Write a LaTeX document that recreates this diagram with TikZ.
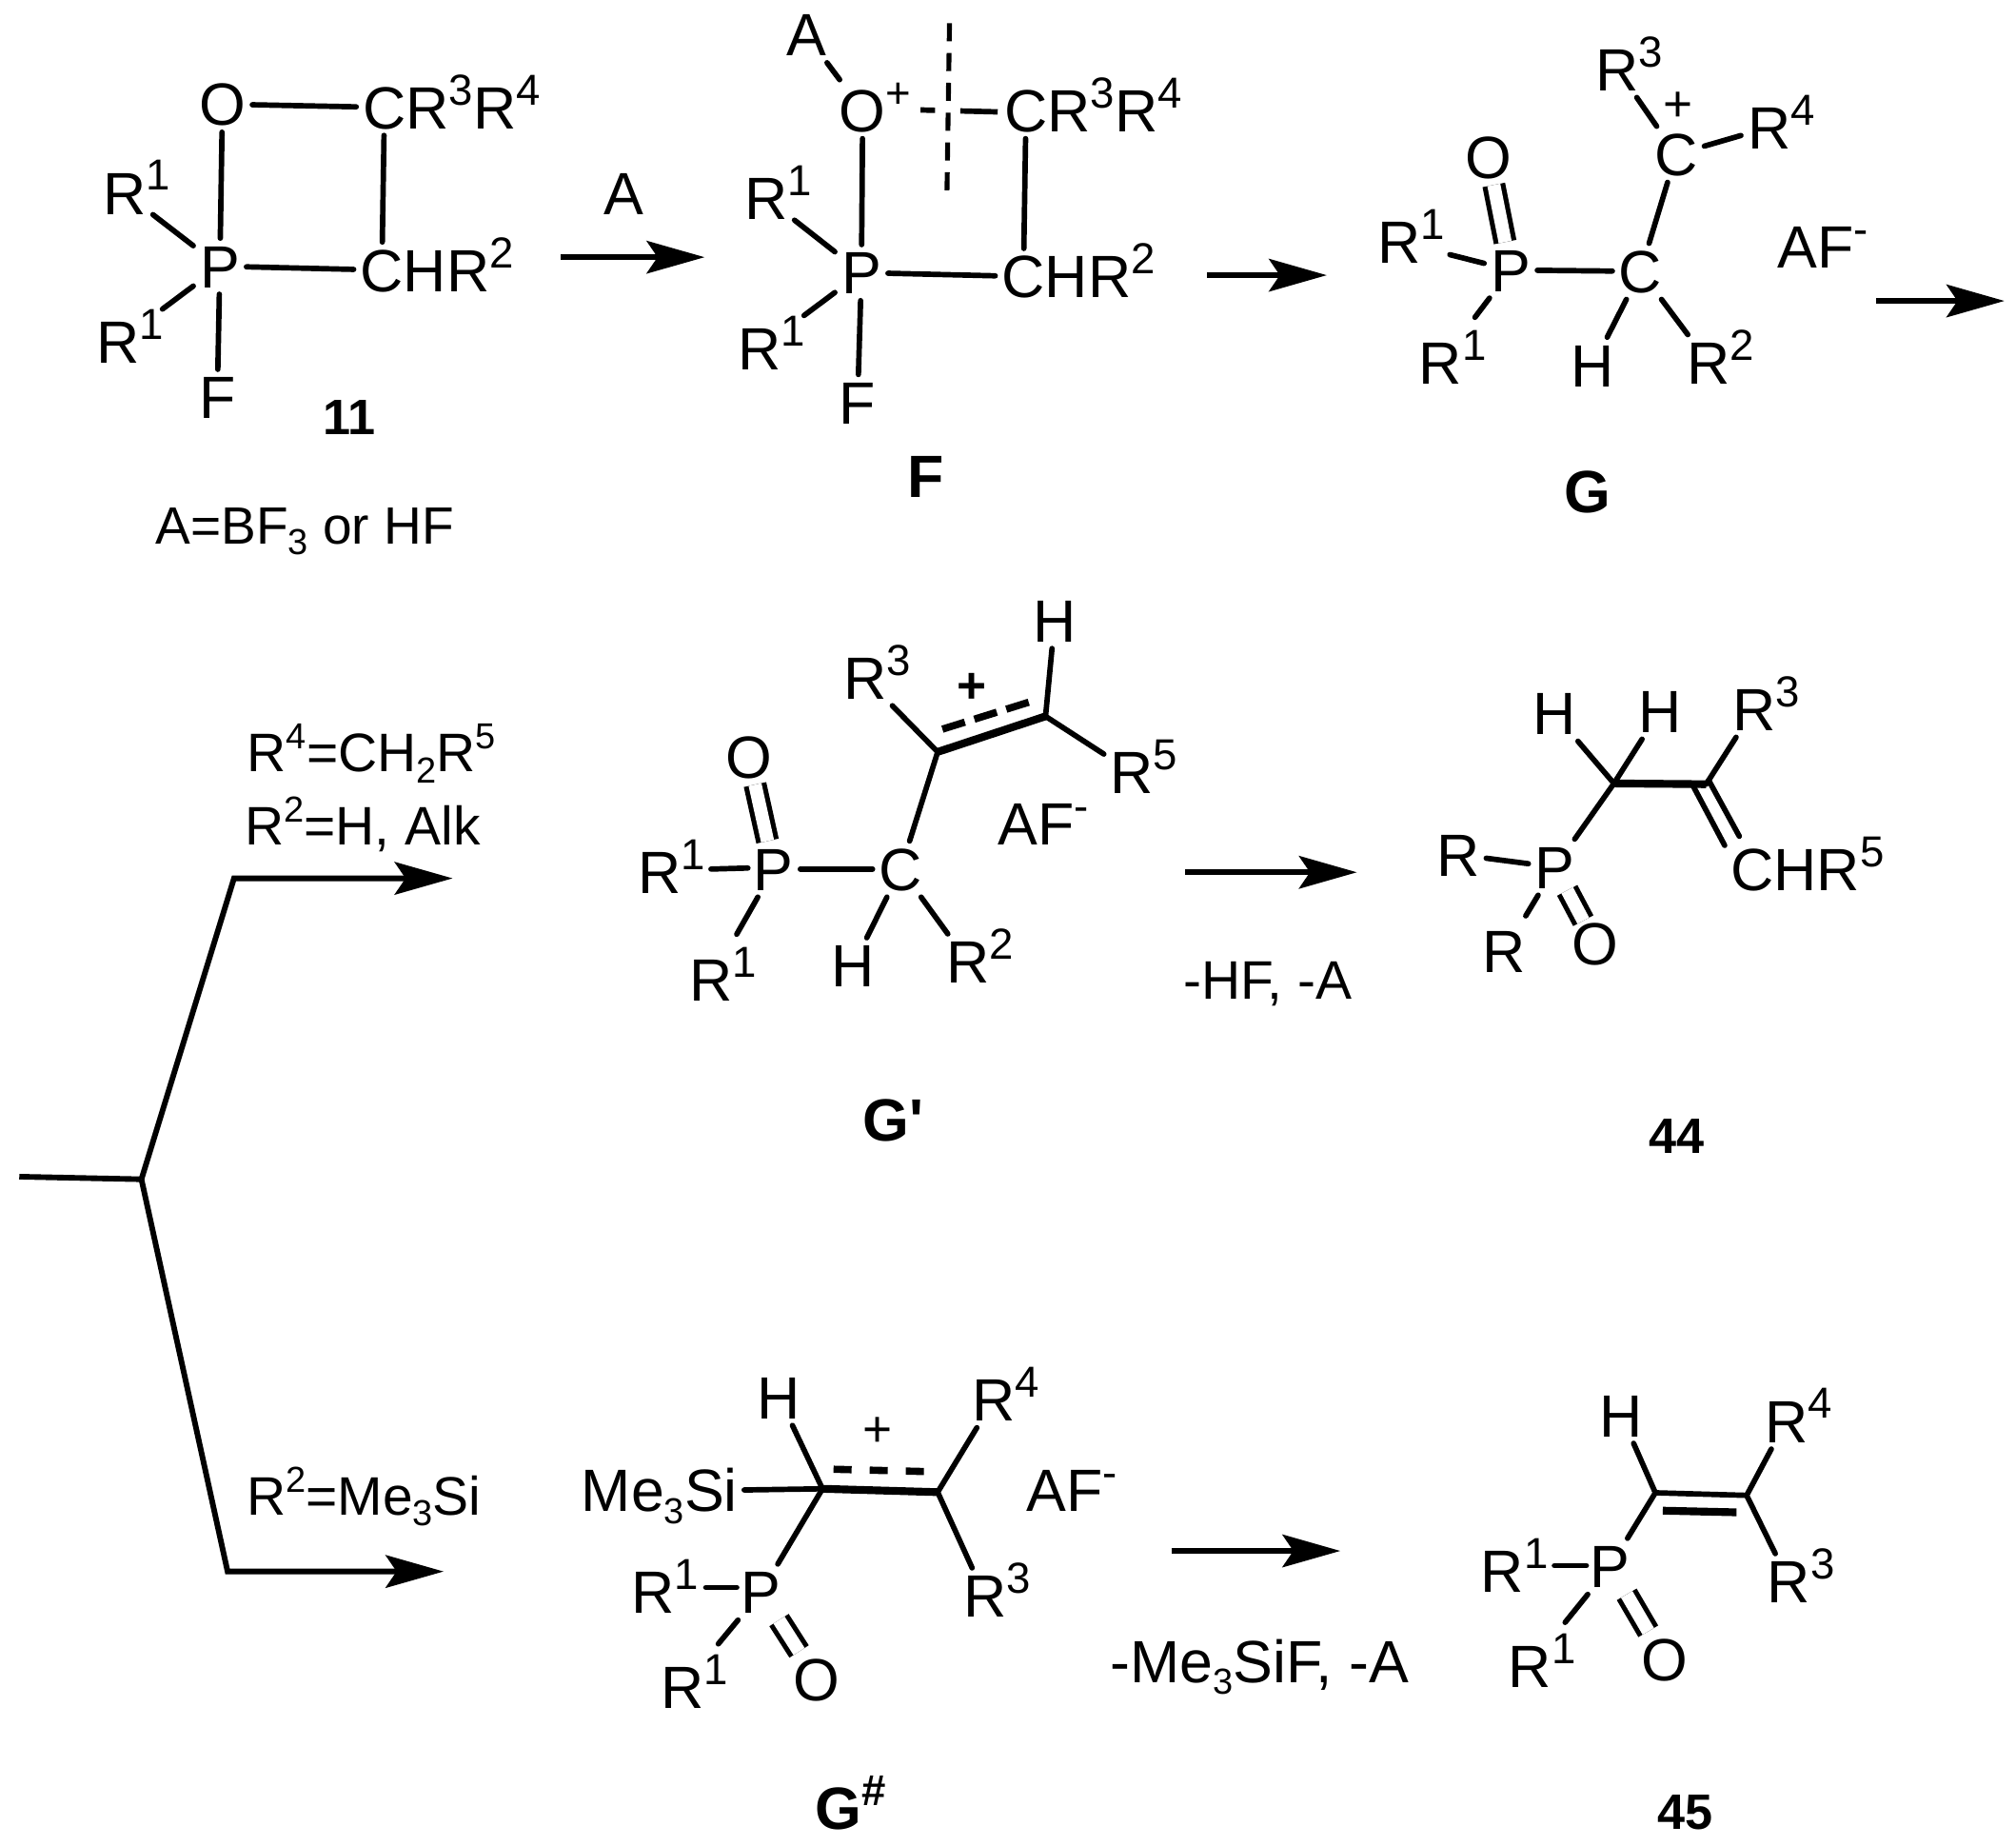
\documentclass[tikz,border=0pt]{standalone}
\usepackage{fontspec}
\setmainfont{Liberation Sans}[Ligatures=TeXOff]
\usetikzlibrary{arrows.meta}
\newcommand{\supn}[1]{\raisebox{0.4em}{\fontsize{24}{24}\selectfont #1}}
\newcommand{\supc}[1]{\raisebox{0.42em}{\fontsize{20}{20}\selectfont #1}}
\newcommand{\subc}[1]{\raisebox{-0.2em}{\fontsize{20}{20}\selectfont #1}}
\newcommand{\Rn}[1]{R\rlap{\supn{#1}}}
\tikzset{
	atom/.style={font=\fontsize{33}{35}\selectfont, inner sep=3.5pt, text height=23.6pt, text depth=0pt},
	cond/.style={atom, font=\fontsize{30}{32}\selectfont, text height=21.5pt},
	tag/.style={atom, font=\fontsize{33}{35}\selectfont\bfseries},
	numtag/.style={atom, font=\fontsize{27.5}{30}\selectfont\bfseries, text height=19.7pt},
	plusmark/.style={atom, font=\fontsize{28}{30}\selectfont, inner sep=0pt, text height=18.6pt},
	bond/.style={line width=3pt, line cap=round},
	heavybond/.style={line width=4.3pt},
	dblbond/.style={line width=2.7pt, double, double distance=7.3pt},
	dashbond/.style={line width=4pt},
	rxn/.style={line width=3.1pt, -{Stealth[length=32pt, width=18pt, inset=6pt]}},
}
\begin{document}
\begin{tikzpicture}[x=0.25mm,y=-0.25mm]
	\useasboundingbox (0,0) rectangle (1568,1435);
	% 11
	\node[atom] (Oa) at (173,81) {O};
	\node[atom] (Pa) at (171,207) {P};
	\node[atom] (Cra) at (299,83.5) {C\rlap{R\supn{3}R\supn{4}}};
	\node[atom] (Cha) at (297,210) {C\rlap{HR\supn{2}}};
	\node[atom] (Raa) at (97,150) {\Rn{1}};
	\node[atom] (Rab) at (92,266) {\Rn{1}};
	\node[atom] (Fa) at (169,309) {F};
	\node[numtag] (numa) at (272,324) {11};
	\node[cond, font=\fontsize{29}{32}\selectfont] (notea) at (237,408) {A=BF\subc{3} or HF};
	\node[atom] (reagenta) at (485,150) {A};
	\draw[bond] (Oa) to (Cra);
	\draw[bond] (Oa) to (Pa);
	\draw[bond] (Cra) to (Cha);
	\draw[bond] (Pa) to (Cha);
	\draw[bond] (Pa) to (Raa);
	\draw[bond, shorten >=11pt] (Pa) to (Rab);
	\draw[bond] (Pa) to (Fa);
	\coordinate (arra) at (436,200);
	\coordinate (arrb) at (548,200);
	\draw[rxn] (arra) to (arrb);
	% F
	\node[atom] (Ab) at (627,27) {A};
	\node[atom] (Ob) at (671,86) {O\rlap{\supn{+}}};
	\node[atom] (Pb) at (670,212) {P};
	\node[atom] (Crb) at (798,86) {C\rlap{R\supn{3}R\supn{4}}};
	\node[atom] (Chb) at (796,215) {C\rlap{HR\supn{2}}};
	\node[atom] (Rba) at (596,154) {\Rn{1}};
	\node[atom] (Rbb) at (591,271) {\Rn{1}};
	\node[atom] (Fb) at (667,313) {F};
	\node[tag] (nameb) at (720,370) {F};
	\coordinate (cuta) at (738.5,18);
	\coordinate (cutb) at (736.5,151.5);
	\coordinate (cutc) at (716,85.5);
	\coordinate (cutd) at (776,87);
	\draw[line width=2.7pt, dash pattern=on 10pt off 6.5pt] (cuta) to (cutb);
	\draw[line width=3pt, dash pattern=on 8pt off 14pt on 21pt off 99pt] (cutc) to (cutd);
	\draw[bond, shorten >=2pt] (Ab) to (Ob);
	\draw[bond] (Ob) to (Pb);
	\draw[bond] (Crb) to (Chb);
	\draw[bond] (Pb) to (Chb);
	\draw[bond] (Pb) to (Rba);
	\draw[bond, shorten >=11pt] (Pb) to (Rbb);
	\draw[bond] (Pb) to (Fb);
	\coordinate (arrc) at (939,214);
	\coordinate (arrd) at (1032,214);
	\draw[rxn] (arrc) to (arrd);
	% G
	\node[atom] (Oc) at (1157.5,122) {O};
	\node[atom] (Pc) at (1175,210) {P};
	\node[atom] (Cca) at (1276,211) {C};
	\node[atom] (Ccb) at (1303.6,120) {C};
	\node[atom] (Rcc) at (1258,54) {\Rn{3}};
	\node[plusmark] (plusc) at (1305,81.6) {+};
	\node[atom] (Rcd) at (1376,99) {\Rn{4}};
	\node[atom] (Rca) at (1088,188) {\Rn{1}};
	\node[atom] (Rcb) at (1120.5,282) {\Rn{1}};
	\node[atom] (Hc) at (1239,284) {H};
	\node[atom] (Rce) at (1329,282) {\Rn{2}};
	\node[atom] (AFc) at (1412,192) {AF\rlap{\supn{-}}};
	\node[tag] (namec) at (1235,382) {G};
	\draw[dblbond] (Pc) to (Oc);
	\draw[bond] (Pc) to (Cca);
	\draw[bond] (Cca) to (Ccb);
	\draw[bond] (Cca) to (Hc);
	\draw[bond] (Cca) to (Rce);
	\draw[bond] (Ccb) to (Rcc);
	\draw[bond] (Ccb) to (Rcd);
	\draw[bond, shorten >=13pt] (Pc) to (Rca);
	\draw[bond, shorten >=12pt] (Pc) to (Rcb);
	\coordinate (arre) at (1459,234);
	\coordinate (arrf) at (1559,234);
	\draw[rxn] (arre) to (arrf);
	% branch
	\coordinate (forka) at (15,915);
	\coordinate (forkb) at (110,917);
	\coordinate (forkc) at (182,683);
	\coordinate (forkd) at (352,683);
	\coordinate (forke) at (177,1222);
	\coordinate (forkf) at (345,1222);
	\draw[line width=3.1pt] (forka) to (forkb);
	\draw[rxn] (forkb) -- (forkc) -- (forkd);
	\draw[rxn] (forkb) -- (forke) -- (forkf);
	\node[cond] (conda) at (289,585) {R\supc{4}=CH\subc{2}R\supc{5}};
	\node[cond] (condb) at (282,642) {R\supc{2}=H, Alk};
	\node[cond] (condc) at (283,1163) {R\supc{2}=Me\subc{3}Si};
	% G'
	\node[atom] (Od) at (582.4,588.3) {O};
	\node[atom] (Pd) at (601.8,675.8) {P};
	\node[atom] (Cd) at (700.6,675.8) {C};
	\node[atom] (Rda) at (513,678) {\Rn{1}};
	\node[atom] (Rdb) at (553,761.7) {\Rn{1}};
	\node[atom] (Hda) at (663.4,751) {H};
	\node[atom] (Rdc) at (753,748) {\Rn{2}};
	\node[atom] (Rdd) at (672.7,527) {\Rn{3}};
	\node[atom] (Hdb) at (820.3,482.5) {H};
	\node[atom] (Rde) at (880.5,600.6) {\Rn{5}};
	\node[plusmark, font=\fontsize{28}{30}\selectfont\bfseries] (plusd) at (755.8,533.7) {+};
	\node[atom] (AFd) at (806,640.5) {AF\rlap{\supn{-}}};
	\node[tag] (named) at (695,870.7) {G'};
	\coordinate (Cda) at (729.3,584.7);
	\coordinate (Cdb) at (813.2,557);
	\coordinate (Cdc) at (733,567);
	\coordinate (Cdd) at (800.3,546);
	\coordinate (Cde) at (553,675.8);
	\coordinate (Cdf) at (581.7,675);
	\draw[bond] (Cde) to (Cdf);
	\draw[dblbond] (Pd) to (Od);
	\draw[bond] (Pd) to (Cd);
	\draw[bond, shorten >=11pt] (Pd) to (Rdb);
	\draw[bond] (Cd) to (Hda);
	\draw[bond] (Cd) to (Rdc);
	\draw[bond] (Cd) to (Cda);
	\draw[bond] (Cda) to (Rdd);
	\draw[heavybond] (Cda) to (Cdb);
	\draw[dashbond, dash pattern=on 13pt off 5.5pt] (Cdc) to (Cdd);
	\draw[bond] (Cdb) to (Hdb);
	\draw[bond] (Cdb) to (Rde);
	\coordinate (arrg) at (922,678.3);
	\coordinate (arrh) at (1055.4,678.3);
	\draw[rxn] (arrg) to (arrh);
	\node[cond] (lossd) at (986,761.7) {-HF, -A};
	% 44
	\node[atom] (Rea) at (1134,664.5) {R};
	\node[atom] (Reb) at (1170,740) {R};
	\node[atom] (Pe) at (1209.4,674.3) {P};
	\node[atom] (Oe) at (1241,734) {O};
	\node[atom] (Hea) at (1208.7,554.6) {H};
	\node[atom] (Heb) at (1291,553) {H};
	\node[atom] (Rec) at (1364.2,551.5) {\Rn{3}};
	\node[atom] (Che) at (1363,675.8) {C\rlap{HR\supn{5}}};
	\node[numtag] (nume) at (1304,883) {44};
	\coordinate (Cea) at (1255.3,609.2);
	\coordinate (Ceb) at (1327,609.8);
	\coordinate (Cec) at (1317,611.4);
	\coordinate (Ced) at (1341.4,657.4);
	\coordinate (Cee) at (1329,606.8);
	\coordinate (Cef) at (1352.8,650.3);
	\draw[bond] (Rea) to (Pe);
	\draw[bond, shorten >=5pt] (Pe) to (Reb);
	\draw[dblbond, shorten <=-3pt, shorten >=-3pt] (Pe) to (Oe);
	\draw[bond] (Pe) to (Cea);
	\draw[bond] (Cea) to (Hea);
	\draw[bond] (Cea) to (Heb);
	\draw[heavybond] (Cea) to (Ceb);
	\draw[bond] (Ceb) to (Rec);
	\draw[bond] (Cec) to (Ced);
	\draw[bond] (Cee) to (Cef);
	% G#
	\node[atom] (Hf) at (606,1086.6) {H};
	\node[atom] (Rfa) at (773,1088.4) {\Rn{4}};
	\node[plusmark] (plusf) at (682.7,1112) {+};
	\node[atom] (Sif) at (553,1159) {\llap{Me\subc{3}}Si};
	\node[atom] (AFf) at (828,1159) {AF\rlap{\supn{-}}};
	\node[atom] (Rfb) at (507.9,1238.2) {\Rn{1}};
	\node[atom] (Pf) at (592,1238) {P};
	\node[atom] (Rfc) at (530.8,1312) {\Rn{1}};
	\node[atom] (Of) at (635.4,1306) {O};
	\node[atom] (Rfd) at (766,1241) {\Rn{3}};
	\node[tag] (namef) at (652,1406) {G\rlap{\supn{\#}}};
	\coordinate (Cfa) at (639.7,1157.7);
	\coordinate (Cfb) at (729.3,1160.3);
	\coordinate (Cfc) at (648.3,1142.5);
	\coordinate (Cfd) at (720,1144.3);
	\coordinate (Cfe) at (549,1234.4);
	\coordinate (Cff) at (573,1234.4);
	\draw[bond] (Sif) to (Cfa);
	\draw[bond] (Cfa) to (Hf);
	\draw[heavybond] (Cfa) to (Cfb);
	\draw[bond] (Cfb) to (Rfa);
	\draw[bond] (Cfb) to (Rfd);
	\draw[bond] (Cfa) to (Pf);
	\draw[dashbond, dash pattern=on 10pt off 10pt] (Cfc) to (Cfd);
	\draw[bond] (Cfe) to (Cff);
	\draw[bond, shorten >=11pt] (Pf) to (Rfc);
	\draw[dblbond] (Pf) to (Of);
	\coordinate (arri) at (911.3,1206);
	\coordinate (arrj) at (1042.5,1206);
	\draw[rxn] (arri) to (arrj);
	\node[atom] (lossf) at (979.7,1291.6) {-Me\subc{3}SiF, -A};
	% 45
	\node[atom] (Hg) at (1261,1100.6) {H};
	\node[atom] (Rga) at (1389.3,1105) {\Rn{4}};
	\node[atom] (Rgb) at (1391.5,1229.9) {\Rn{3}};
	\node[atom] (Pg) at (1252.5,1218) {P};
	\node[atom] (Rgc) at (1168.6,1221.7) {\Rn{1}};
	\node[atom] (Rgd) at (1190,1295.4) {\Rn{1}};
	\node[atom] (Og) at (1294.7,1290.3) {O};
	\node[numtag] (numg) at (1311,1408.4) {45};
	\coordinate (Cga) at (1287.5,1160.8);
	\coordinate (Cgb) at (1358.5,1162.8);
	\coordinate (Cgc) at (1293.3,1174.7);
	\coordinate (Cgd) at (1350.6,1176);
	\coordinate (Cge) at (1209,1217.4);
	\coordinate (Cgf) at (1233.8,1217.4);
	\draw[bond] (Cga) to (Hg);
	\draw[bond] (Cgb) to (Rga);
	\draw[bond] (Cgb) to (Rgb);
	\draw[bond] (Cga) to (Cgb);
	\draw[line width=4.3pt] (Cgc) to (Cgd);
	\draw[bond] (Cga) to (Pg);
	\draw[bond] (Cge) to (Cgf);
	\draw[bond, shorten >=11pt] (Pg) to (Rgd);
	\draw[dblbond] (Pg) to (Og);
\end{tikzpicture}
\end{document}
